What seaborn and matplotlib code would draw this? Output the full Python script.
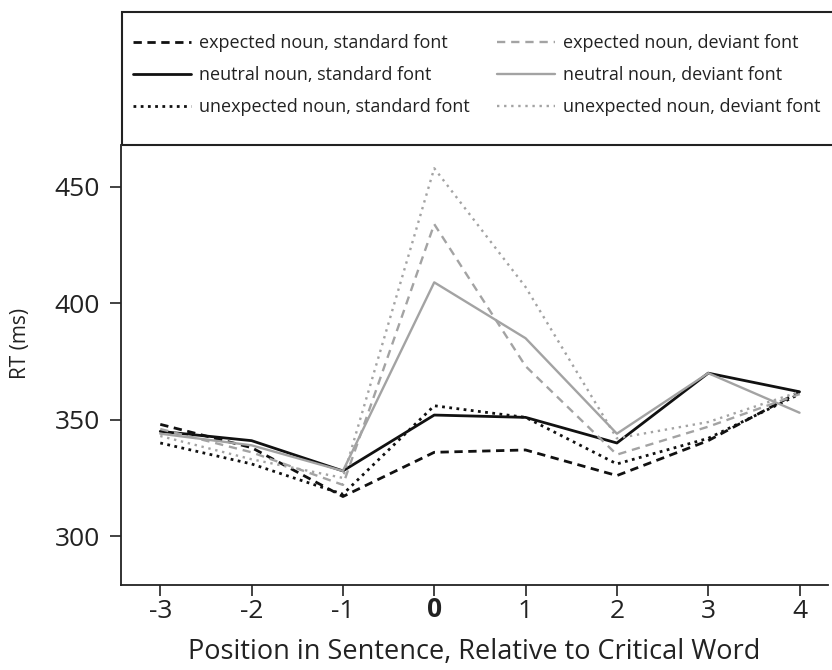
import matplotlib
matplotlib.use("Agg")
import matplotlib.pyplot as plt
import matplotlib.transforms as mtransforms
from matplotlib.patches import Rectangle
import seaborn as sns
import pandas as pd

# posição relativa à palavra crítica
posicoes = [-3, -2, -1, 0, 1, 2, 3, 4]
rotulos_x = ["-3", "-2", "-1", "0", "1", "2", "3", "4"]

# RT (ms)
esperado_padrao = [348, 338, 317, 336, 337, 326, 341, 362]
neutro_padrao = [345, 341, 328, 352, 351, 340, 370, 362]
inesperado_padrao = [340, 331, 318, 356, 351, 331, 342, 361]
esperado_desviante = [346, 336, 322, 434, 373, 335, 347, 361]
neutro_desviante = [344, 339, 328, 409, 385, 344, 370, 353]
inesperado_desviante = [343, 333, 325, 458, 407, 342, 349, 362]

nomes = [
    "expected noun, standard font",
    "neutral noun, standard font",
    "unexpected noun, standard font",
    "expected noun, deviant font",
    "neutral noun, deviant font",
    "unexpected noun, deviant font",
]
series = [esperado_padrao, neutro_padrao, inesperado_padrao,
          esperado_desviante, neutro_desviante, inesperado_desviante]

PRETO = "#111111"
CINZA = "#a3a3a3"
estilos = [
    (PRETO, (0, (3, 2)), 2.0),
    (PRETO, "-", 2.0),
    (PRETO, (0, (1, 1.6)), 2.0),
    (CINZA, (0, (3.5, 2.5)), 1.7),
    (CINZA, "-", 1.7),
    (CINZA, (0, (1, 2)), 1.7),
]

sns.set_style("ticks")
plt.rcParams["font.family"] = ["Open Sans", "DejaVu Sans"]

fig = plt.figure(figsize=(8.32, 6.7), dpi=100)
ax = fig.add_axes([121 / 832, 85 / 670, 0.995 - 121 / 832, 440 / 670])

for nome, valores, (cor, ls, lw) in zip(nomes, series, estilos):
    df = pd.DataFrame({"posicao": posicoes, "rt": valores})
    sns.lineplot(data=df, x="posicao", y="rt", ax=ax, color=cor,
                 linestyle=ls, linewidth=lw, label=nome, legend=False)

ax.set_xlim(-3.43, 4.31)
ax.set_ylim(279, 468)
ax.set_xticks(posicoes)
ax.set_xticklabels(rotulos_x)
ax.set_yticks([300, 350, 400, 450])
ax.tick_params(axis="both", labelsize=19, length=8, width=1.2, color="#222222",
               labelcolor="#222222")
ax.tick_params(axis="y", pad=7)
ax.tick_params(axis="x", pad=2)

# o "0" em negrito fica um pouco mais baixo; sobe 3 px
rotulo_zero = ax.get_xticklabels()[3]
rotulo_zero.set_fontweight("bold")
rotulo_zero.set_transform(rotulo_zero.get_transform() +
                          mtransforms.ScaledTranslation(0, 3 / 100, fig.dpi_scale_trans))

ax.set_xlabel("Position in Sentence, Relative to Critical Word", fontsize=19.5,
              color="#222222", labelpad=10)
ax.set_ylabel("RT (ms)", fontsize=15, color="#222222")
ax.yaxis.set_label_coords(-0.128, 0.55)
sns.despine(ax=ax, top=True, right=True)
for lado in ["left", "bottom"]:
    ax.spines[lado].set_linewidth(1.3)
    ax.spines[lado].set_color("#222222")

# caixa da legenda acima do gráfico
caixa = Rectangle((122 / 832, (670 - 145) / 670), 1.0, 133 / 670,
                  transform=fig.transFigure, fill=False, edgecolor="#222222",
                  linewidth=1.5, clip_on=False)
fig.patches.append(caixa)

handles, labels = ax.get_legend_handles_labels()
opcoes = dict(frameon=False, loc="upper left", fontsize=13, borderpad=0,
              borderaxespad=0, handlelength=3.2, handletextpad=0.45,
              labelspacing=0.78, labelcolor="#222222")
leg1 = fig.legend(handles[:3], labels[:3],
                  bbox_to_anchor=(133 / 832, 1 - 34 / 670), **opcoes)
leg2 = fig.legend(handles[3:], labels[3:],
                  bbox_to_anchor=(497 / 832, 1 - 34 / 670), **opcoes)

fig.savefig("out.png", dpi=100)
